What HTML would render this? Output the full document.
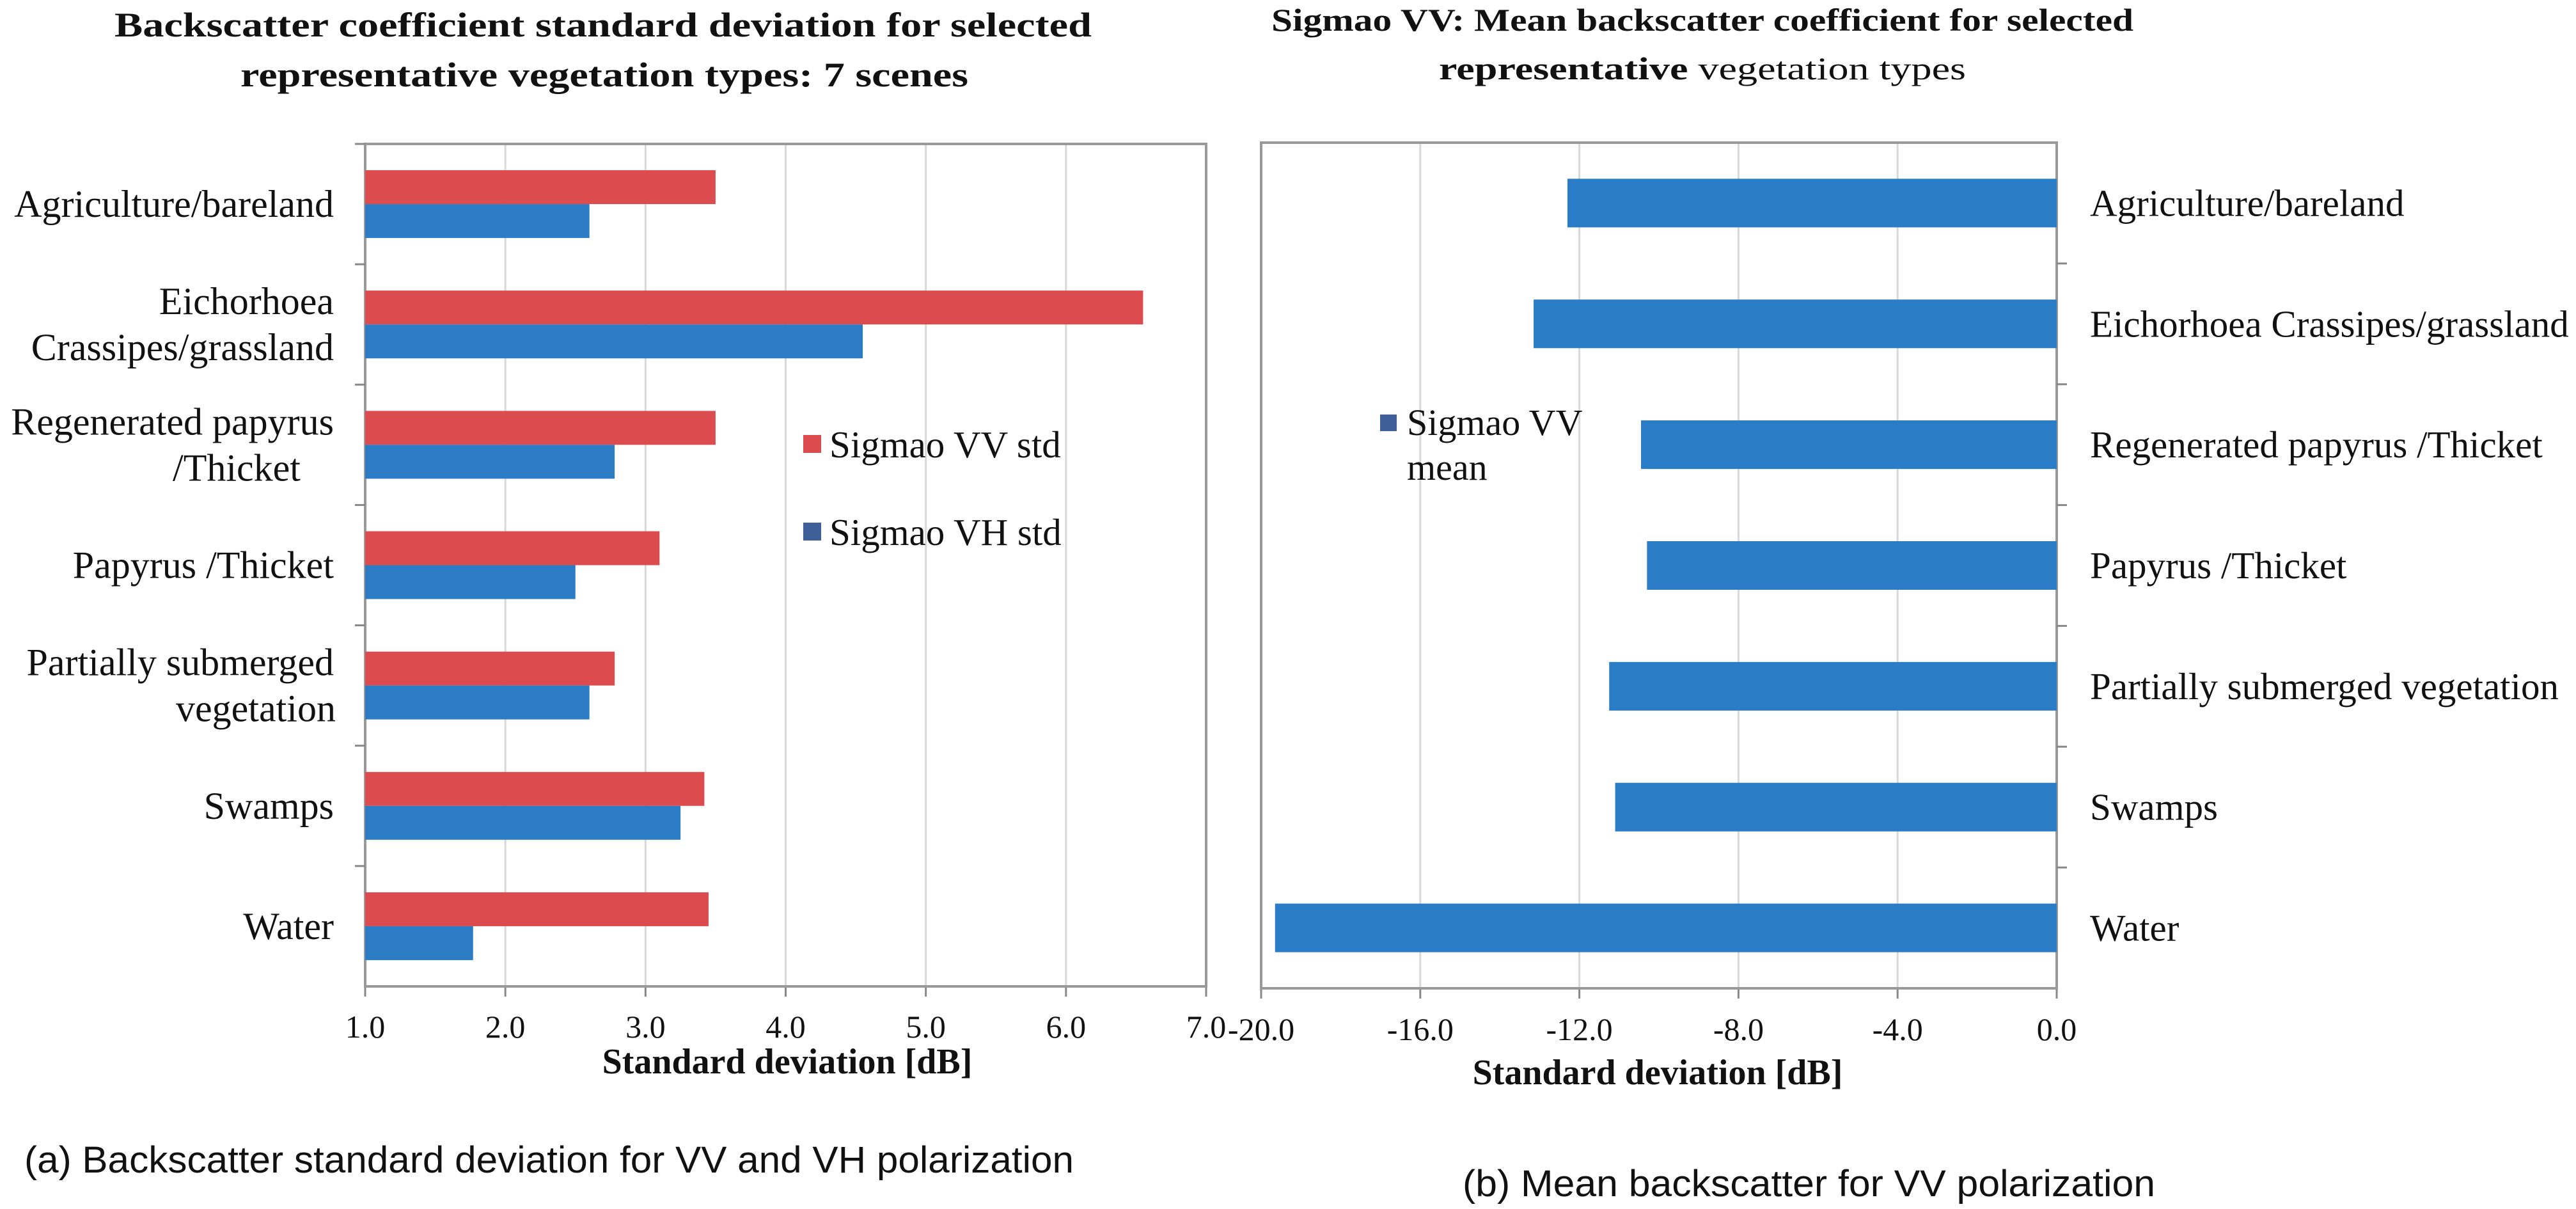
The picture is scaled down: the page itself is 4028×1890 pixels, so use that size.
<!DOCTYPE html>
<html><head><meta charset="utf-8"><style>
html,body{margin:0;padding:0;background:#fff;}
svg{display:block;}
text{font-family:"Liberation Serif",serif;fill:#111;}
.sans{font-family:"Liberation Sans",sans-serif;}
</style></head><body>
<svg id="fig" width="4028" height="1890" viewBox="0 0 4028 1890" xmlns="http://www.w3.org/2000/svg">
<g id="left"></g>
<g id="right"></g>
<text x="179" y="57" font-size="54" font-weight="bold" textLength="1528" lengthAdjust="spacingAndGlyphs">Backscatter coefficient standard deviation for selected</text>
<text x="376" y="135" font-size="54" font-weight="bold" textLength="1138" lengthAdjust="spacingAndGlyphs">representative vegetation types: 7 scenes</text>
<text x="1988" y="48" font-size="50" font-weight="bold" textLength="1348" lengthAdjust="spacingAndGlyphs">Sigmao VV:  Mean backscatter coefficient for selected</text>
<text x="2250" y="124" font-size="50" textLength="824" lengthAdjust="spacingAndGlyphs"><tspan font-weight="bold">representative</tspan> vegetation types</text>
<text class="sans" x="38" y="1833" font-size="58" fill="#222" textLength="1641" lengthAdjust="spacingAndGlyphs">(a) Backscatter standard deviation for VV and VH polarization</text>
<text class="sans" x="2287" y="1870" font-size="58" fill="#222" textLength="1083" lengthAdjust="spacingAndGlyphs">(b) Mean backscatter for VV polarization</text>
</svg>
<script>
const NS="http://www.w3.org/2000/svg";
const catsLeft=[["Agriculture/bareland"],["Eichorhoea","Crassipes/grassland"],["Regenerated papyrus","/Thicket"],["Papyrus /Thicket"],["Partially submerged","vegetation"],["Swamps"],["Water"]];
const vvStd=[3.5,6.55,3.5,3.1,2.78,3.42,3.45];
const vhStd=[2.6,4.55,2.78,2.5,2.6,3.25,1.77];
const leftTicks=["1.0","2.0","3.0","4.0","5.0","6.0","7.0"];
const catsRight=["Agriculture/bareland","Eichorhoea Crassipes/grassland","Regenerated papyrus /Thicket","Papyrus /Thicket","Partially submerged vegetation","Swamps","Water"];
const vvMean=[-12.3,-13.15,-10.45,-10.3,-11.25,-11.1,-19.65];
const rightTicks=["-20.0","-16.0","-12.0","-8.0","-4.0","0.0"];

function mk(parent,tag,attrs,txt){const e=document.createElementNS(NS,tag);for(const k in attrs)e.setAttribute(k,attrs[k]);if(txt!==undefined)e.textContent=txt;parent.appendChild(e);return e;}

// LEFT
const L=document.getElementById('left');
const lx0=571,lx1=1886,ly0=225,ly1=1542,lmin=1,lmax=7;
const xL=v=>lx0+(v-lmin)/(lmax-lmin)*(lx1-lx0);
const bandL=(ly1-ly0)/catsLeft.length;
leftTicks.forEach((t,i)=>{const v=lmin+i;const x=xL(v);
 if(i>0&&i<leftTicks.length-1){const g=mk(L,'line',{x1:x,x2:x,y1:ly0,y2:ly1,stroke:'#d8d8d8','stroke-width':3});}
 const tk=mk(L,'line',{x1:x,x2:x,y1:ly1,y2:ly1+16,stroke:'#888','stroke-width':3});
 const tl=mk(L,'text',{x:x,y:1622,'font-size':50,'text-anchor':'middle',fill:'#333'},t);});
const lb=mk(L,'rect',{x:lx0,y:ly0,width:lx1-lx0,height:ly1-ly0,fill:'none',stroke:'#999','stroke-width':4});

catsLeft.forEach((c,i)=>{const top=ly0+i*bandL;const bh=53;const mid=top+bandL/2;
 const r=mk(L,'rect',{x:xL(lmin),y:mid-bh,width:xL(vvStd[i])-xL(lmin),height:bh,fill:'#dc4b4d'});
 const b=mk(L,'rect',{x:xL(lmin),y:mid,width:xL(vhStd[i])-xL(lmin),height:bh,fill:'#2b7cc4'});
 const tk=mk(L,'line',{x1:lx0-16,x2:lx0,y1:top,y2:top,stroke:'#888','stroke-width':3});
 const n=c.length;c.forEach((s,j)=>{const y=mid+20+(j-(n-1)/2)*72;const centered=(n>1&&j==1&&i!=1);const t=mk(L,'text',{x:centered?(i==2?370:400):522,y:y,'font-size':60,'text-anchor':centered?'middle':'end'},s);});});
const lt=mk(L,'text',{x:1231,y:1678,'font-size':56,'font-weight':'bold','text-anchor':'middle'},'Standard deviation [dB]');

const lg1=mk(L,'rect',{x:1256,y:680,width:28,height:28,fill:'#dc4b4d'});
const lg1t=mk(L,'text',{x:1297,y:715,'font-size':59},'Sigmao VV std');
const lg2=mk(L,'rect',{x:1256,y:817,width:28,height:28,fill:'#3f5f98'});
const lg2t=mk(L,'text',{x:1297,y:852,'font-size':59},'Sigmao VH std');

// RIGHT
const R=document.getElementById('right');
const rx0=1972,rx1=3216,ry0=223,ry1=1545,rmin=-20,rmax=0;
const xR=v=>rx0+(v-rmin)/(rmax-rmin)*(rx1-rx0);
const bandR=(ry1-ry0)/catsRight.length;
rightTicks.forEach((t,i)=>{const v=rmin+i*4;const x=xR(v);
 if(i>0&&i<rightTicks.length-1){const g=mk(R,'line',{x1:x,x2:x,y1:ry0,y2:ry1,stroke:'#d8d8d8','stroke-width':3});}
 const tk=mk(R,'line',{x1:x,x2:x,y1:ry1,y2:ry1+16,stroke:'#888','stroke-width':3});
 const tl=mk(R,'text',{x:x,y:1626,'font-size':50,'text-anchor':'middle',fill:'#333'},t);});
const rb=mk(R,'rect',{x:rx0,y:ry0,width:rx1-rx0,height:ry1-ry0,fill:'none',stroke:'#999','stroke-width':4});

catsRight.forEach((c,i)=>{const top=ry0+i*bandR;const mid=top+bandR/2;const bh=76;
 const b=mk(R,'rect',{x:xR(vvMean[i]),y:mid-bh/2,width:xR(0)-xR(vvMean[i]),height:bh,fill:'#2a7cc6'});
 if(i>0){const tk=mk(R,'line',{x1:rx1,x2:rx1+16,y1:top,y2:top,stroke:'#888','stroke-width':3});}
 const t=mk(R,'text',{x:3268,y:mid+20,'font-size':59},c);});
const rt=mk(R,'text',{x:2592,y:1695,'font-size':56,'font-weight':'bold','text-anchor':'middle'},'Standard deviation [dB]');

const rg=mk(R,'rect',{x:2158,y:648,width:26,height:26,fill:'#3f5f98'});
const rgt=mk(R,'text',{x:2200,y:680,'font-size':58},'Sigmao VV');
const rgt2=mk(R,'text',{x:2200,y:750,'font-size':58},'mean');
</script>
</body></html>
